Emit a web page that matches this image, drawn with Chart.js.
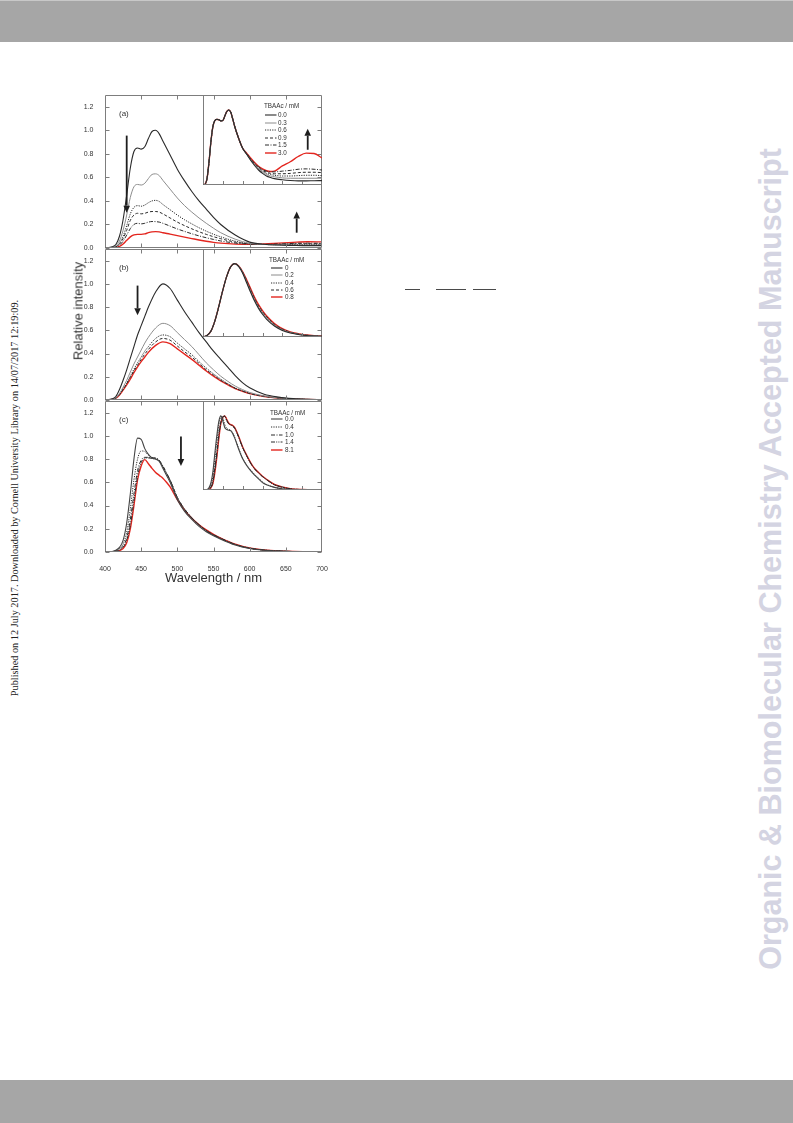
<!DOCTYPE html>
<html><head><meta charset="utf-8">
<script src="https://cdn.jsdelivr.net/npm/chart.js@4.4.0/dist/chart.umd.min.js"></script>
<style>
html,body{margin:0;padding:0;}
body{width:793px;height:1123px;position:relative;background:#fff;overflow:hidden;font-family:"Liberation Sans",Arial,sans-serif;}
.bar{position:absolute;left:0;width:793px;background:#a6a6a6;}
canvas{position:absolute;}
.rot{position:absolute;white-space:nowrap;transform:translate(-50%,-50%) rotate(-90deg);}
.leg{position:absolute;font-size:6.3px;color:#333;white-space:nowrap;line-height:8px;}
.leg svg{position:absolute;}
.seg{position:absolute;height:1.4px;background:#4a4a4a;}
</style></head>
<body>
<div class="bar" style="top:0;height:42px;border-top:1px solid #c8c8c8;box-sizing:border-box;"></div>
<div class="bar" style="top:1080px;height:43px;"></div>
<div id="wm" class="rot" style="left:770px;top:559px;font-weight:bold;font-size:30px;color:rgb(212,212,226);">Organic &amp; Biomolecular Chemistry Accepted Manuscript</div>
<div id="side" class="rot" style="left:14px;top:498px;font-family:'Liberation Serif','Times New Roman',serif;font-size:9.5px;color:#222;">Published on 12 July 2017. Downloaded by Cornell University Library on 14/07/2017 12:19:09.</div>
<div class="seg" style="left:405px;top:289px;width:15px;"></div>
<div class="seg" style="left:436px;top:289px;width:30px;"></div>
<div class="seg" style="left:473px;top:289px;width:23px;"></div>

<canvas id="pa" width="285" height="173" style="left:50px;top:85px;"></canvas>
<canvas id="pb" width="285" height="171" style="left:50px;top:239px;"></canvas>
<canvas id="pc" width="285" height="200" style="left:50px;top:391px;"></canvas>
<canvas id="ia" width="129" height="100" style="left:198px;top:90px;"></canvas>
<canvas id="ib" width="129" height="98" style="left:198px;top:244px;"></canvas>
<canvas id="ic" width="129" height="99" style="left:198px;top:396px;"></canvas>
<div class="rot" style="left:78px;top:311px;font-size:13px;color:#333;">Relative intensity</div>
<div id="legends"></div>

<script>
// ---------- tick labels ----------
const xTicks = [400, 450, 500, 550, 600, 650, 700];
const yTicks = [0.0, 0.2, 0.4, 0.6, 0.8, 1.0, 1.2];
const insetXTicks = [450, 500, 550, 600, 650];
const legendTitle = 'TBAAc / mM';

// ---------- panel (a) ----------
const concA = ['0.0', '0.3', '0.6', '0.9', '1.5', '3.0'];
const wlA = [400,410,415,420,425,430,435,440,445,450,455,460,465,470,475,480,490,500,510,520,530,540,550,560,580,600,620,640,660,680,700];
const mainA_00 = [0,0.01,0.03,0.10,0.24,0.45,0.68,0.82,0.85,0.84,0.86,0.93,0.99,1.00,0.97,0.91,0.79,0.67,0.57,0.48,0.40,0.33,0.26,0.20,0.11,0.05,0.032,0.025,0.022,0.02,0.02];
const mainA_03 = [0,0.006,0.02,0.06,0.15,0.28,0.43,0.52,0.54,0.535,0.55,0.59,0.625,0.63,0.615,0.575,0.50,0.425,0.36,0.305,0.255,0.21,0.168,0.13,0.075,0.04,0.03,0.026,0.025,0.025,0.025];
const mainA_06 = [0,0.004,0.012,0.04,0.10,0.19,0.29,0.345,0.36,0.355,0.365,0.385,0.40,0.405,0.395,0.37,0.325,0.28,0.24,0.205,0.172,0.143,0.117,0.095,0.058,0.037,0.03,0.028,0.029,0.03,0.03];
const mainA_09 = [0,0.003,0.01,0.033,0.08,0.15,0.235,0.28,0.295,0.29,0.295,0.305,0.31,0.31,0.305,0.29,0.255,0.22,0.19,0.163,0.138,0.116,0.096,0.079,0.05,0.035,0.03,0.031,0.034,0.036,0.035];
const mainA_15 = [0,0.002,0.007,0.024,0.058,0.11,0.165,0.2,0.21,0.205,0.21,0.22,0.225,0.224,0.22,0.21,0.186,0.162,0.141,0.121,0.103,0.087,0.073,0.06,0.042,0.033,0.031,0.034,0.039,0.041,0.04];
const mainA_30 = [0,0.002,0.005,0.014,0.034,0.065,0.095,0.112,0.116,0.116,0.12,0.13,0.137,0.139,0.137,0.13,0.118,0.105,0.092,0.08,0.068,0.057,0.048,0.041,0.033,0.031,0.034,0.041,0.048,0.053,0.052];

const wlIA = [400,405,410,415,420,425,430,435,440,445,450,455,460,465,470,475,480,490,500,510,520,530,540,550,560,570,580,600,620,640,660,680,700];
const insetA_00 = [0,0.01,0.08,0.30,0.58,0.78,0.86,0.875,0.87,0.855,0.86,0.92,0.98,1.0,0.97,0.88,0.78,0.62,0.49,0.41,0.33,0.26,0.20,0.155,0.12,0.10,0.085,0.07,0.06,0.055,0.055,0.057,0.058];
const insetA_03 = [0,0.01,0.08,0.30,0.58,0.78,0.86,0.875,0.87,0.855,0.86,0.92,0.98,1.0,0.97,0.88,0.78,0.62,0.49,0.41,0.335,0.27,0.215,0.17,0.14,0.12,0.11,0.095,0.09,0.09,0.09,0.09,0.09];
const insetA_06 = [0,0.01,0.08,0.30,0.58,0.78,0.86,0.875,0.87,0.855,0.86,0.92,0.98,1.0,0.97,0.88,0.78,0.62,0.49,0.415,0.34,0.275,0.225,0.185,0.155,0.14,0.13,0.12,0.12,0.125,0.13,0.13,0.125];
const insetA_09 = [0,0.01,0.08,0.30,0.58,0.78,0.86,0.875,0.87,0.855,0.86,0.92,0.98,1.0,0.97,0.88,0.78,0.62,0.49,0.415,0.345,0.28,0.235,0.195,0.17,0.155,0.15,0.15,0.155,0.165,0.17,0.17,0.165];
const insetA_15 = [0,0.01,0.08,0.30,0.58,0.78,0.86,0.875,0.87,0.855,0.86,0.92,0.98,1.0,0.97,0.88,0.78,0.62,0.49,0.42,0.35,0.29,0.245,0.205,0.185,0.175,0.175,0.185,0.195,0.21,0.215,0.21,0.20];
const insetA_30 = [0,0.01,0.08,0.30,0.58,0.78,0.86,0.875,0.87,0.855,0.86,0.92,0.98,1.0,0.97,0.88,0.78,0.62,0.49,0.425,0.36,0.30,0.25,0.215,0.19,0.18,0.185,0.255,0.31,0.38,0.425,0.42,0.36];

// ---------- panel (b) ----------
const concB = ['0', '0.2', '0.4', '0.6', '0.8'];
const wlB = [400,410,415,420,425,430,435,440,445,450,455,460,470,480,490,500,510,520,530,540,550,560,570,580,590,600,620,640,660,680,700];
const mainB_0  = [0,0.01,0.03,0.09,0.17,0.26,0.36,0.46,0.56,0.64,0.72,0.80,0.93,1.0,0.96,0.86,0.76,0.67,0.58,0.50,0.42,0.35,0.28,0.21,0.15,0.105,0.05,0.025,0.012,0.006,0.003];
const mainB_02 = [0,0.006,0.02,0.055,0.11,0.17,0.24,0.31,0.37,0.43,0.49,0.54,0.62,0.66,0.64,0.58,0.52,0.46,0.39,0.32,0.26,0.205,0.16,0.12,0.09,0.065,0.035,0.018,0.01,0.005,0.003];
const mainB_04 = [0,0.005,0.017,0.047,0.095,0.145,0.205,0.265,0.32,0.37,0.42,0.46,0.53,0.56,0.545,0.49,0.44,0.39,0.33,0.275,0.225,0.18,0.14,0.105,0.08,0.058,0.032,0.017,0.009,0.005,0.003];
const mainB_06 = [0,0.005,0.016,0.045,0.09,0.14,0.195,0.25,0.30,0.35,0.395,0.435,0.50,0.53,0.515,0.465,0.415,0.37,0.315,0.26,0.215,0.17,0.135,0.10,0.077,0.056,0.031,0.016,0.009,0.005,0.003];
const mainB_08 = [0,0.005,0.015,0.042,0.085,0.13,0.18,0.235,0.285,0.33,0.37,0.41,0.47,0.50,0.485,0.44,0.395,0.35,0.30,0.25,0.205,0.165,0.13,0.098,0.075,0.055,0.03,0.016,0.009,0.005,0.003];

const wlIB = [400,410,420,430,440,450,460,470,480,490,500,510,520,530,540,550,560,580,600,620,640,660,680,700];
const insetB_0  = [0,0.02,0.08,0.22,0.42,0.64,0.83,0.96,1.0,0.96,0.87,0.74,0.61,0.49,0.39,0.31,0.245,0.15,0.09,0.055,0.035,0.02,0.012,0.008];
const insetB_02 = [0,0.02,0.08,0.22,0.42,0.64,0.83,0.96,1.0,0.965,0.875,0.75,0.625,0.505,0.405,0.325,0.26,0.16,0.097,0.06,0.038,0.022,0.014,0.009];
const insetB_04 = [0,0.02,0.08,0.22,0.42,0.64,0.83,0.96,1.0,0.965,0.88,0.76,0.635,0.515,0.415,0.335,0.27,0.168,0.103,0.063,0.04,0.024,0.015,0.01];
const insetB_06 = [0,0.02,0.08,0.22,0.42,0.64,0.83,0.96,1.0,0.97,0.885,0.77,0.645,0.525,0.425,0.345,0.28,0.175,0.108,0.066,0.042,0.026,0.016,0.011];
const insetB_08 = [0,0.02,0.08,0.22,0.42,0.64,0.83,0.96,1.0,0.97,0.89,0.78,0.66,0.54,0.44,0.36,0.29,0.185,0.115,0.07,0.045,0.028,0.018,0.012];

// ---------- panel (c) ----------
const concC = ['0.0', '0.4', '1.0', '1.4', '8.1'];
const wlC = [400,410,415,420,425,430,435,440,445,450,455,460,465,470,475,480,485,490,500,510,520,530,540,550,560,580,600,620,640,660,680,700];
const mainC_00 = [0,0.005,0.015,0.04,0.1,0.25,0.5,0.8,0.98,0.97,0.89,0.84,0.81,0.80,0.78,0.72,0.66,0.6,0.45,0.35,0.28,0.22,0.175,0.14,0.11,0.06,0.03,0.015,0.008,0.004,0.002,0];
const mainC_04 = [0,0.003,0.01,0.03,0.07,0.17,0.37,0.62,0.8,0.87,0.865,0.835,0.815,0.805,0.785,0.73,0.67,0.61,0.46,0.36,0.29,0.23,0.18,0.145,0.115,0.063,0.032,0.016,0.008,0.004,0.002,0];
const mainC_10 = [0,0.002,0.008,0.02,0.05,0.12,0.28,0.5,0.7,0.79,0.815,0.815,0.81,0.81,0.79,0.74,0.68,0.62,0.47,0.37,0.295,0.235,0.185,0.148,0.118,0.065,0.033,0.017,0.009,0.004,0.002,0];
const mainC_14 = [0,0.002,0.006,0.016,0.04,0.1,0.23,0.44,0.65,0.77,0.805,0.81,0.805,0.80,0.785,0.74,0.68,0.62,0.47,0.37,0.295,0.235,0.185,0.148,0.118,0.065,0.033,0.017,0.009,0.004,0.002,0];
const mainC_81 = [0,0.001,0.004,0.012,0.03,0.08,0.2,0.4,0.62,0.74,0.795,0.76,0.72,0.685,0.66,0.635,0.6,0.56,0.45,0.36,0.29,0.235,0.19,0.152,0.12,0.068,0.035,0.018,0.009,0.004,0.002,0];

const wlIC = [400,410,415,420,425,430,435,440,445,450,455,460,465,470,475,480,490,500,510,520,530,540,550,560,580,600,620,650,700];
const insetC_00 = [0,0.005,0.03,0.1,0.25,0.5,0.74,0.93,1.0,0.93,0.84,0.815,0.805,0.8,0.76,0.7,0.55,0.42,0.33,0.26,0.2,0.15,0.1,0.07,0.035,0.015,0.007,0.002,0];
const insetC_04 = [0,0.004,0.02,0.07,0.19,0.42,0.67,0.88,0.99,0.97,0.88,0.83,0.815,0.805,0.77,0.71,0.56,0.43,0.34,0.27,0.21,0.16,0.11,0.075,0.037,0.016,0.007,0.002,0];
const insetC_10 = [0,0.002,0.01,0.04,0.12,0.3,0.52,0.76,0.92,0.99,0.99,0.93,0.89,0.875,0.86,0.83,0.71,0.57,0.46,0.36,0.285,0.23,0.18,0.14,0.07,0.037,0.016,0.005,0];
const insetC_14 = [0,0.002,0.008,0.035,0.1,0.27,0.48,0.73,0.9,0.985,1.0,0.94,0.895,0.88,0.865,0.835,0.715,0.575,0.465,0.365,0.288,0.232,0.182,0.142,0.072,0.038,0.017,0.005,0];
const insetC_81 = [0,0.002,0.007,0.03,0.09,0.24,0.45,0.7,0.9,0.98,1.0,0.95,0.9,0.88,0.87,0.84,0.72,0.58,0.47,0.37,0.29,0.235,0.185,0.145,0.075,0.04,0.018,0.006,0];

// ---------- styles ----------
const DARK = '#2a2a2a', GREY = '#8c8c8c', RED = '#e3261f';
const S_SOLID = {c: DARK, w: 1.1, d: []};
const S_GREY = {c: GREY, w: 1, d: []};
const S_DOT = {c: DARK, w: 1, d: [1.2, 1.2]};
const S_DASH = {c: DARK, w: 1, d: [3, 2]};
const S_DDOT = {c: DARK, w: 1, d: [4, 1.5, 1, 1.5]};
const S_DDDOT = {c: DARK, w: 1, d: [4, 1.2, 1, 1.2, 1, 1.2]};
const S_RED = {c: RED, w: 1.4, d: []};
const stylesA = [S_SOLID, S_GREY, S_DOT, S_DASH, S_DDOT, S_RED];
const stylesB = [S_SOLID, S_GREY, S_DOT, S_DASH, S_RED];
const stylesC = [{c: '#444', w: 1.1, d: []}, S_DOT, S_DDOT, S_DDDOT, S_RED];

Chart.defaults.font.family = '"Liberation Sans", Arial, sans-serif';
Chart.defaults.color = '#333';

const decor = {
  id: 'decor',
  afterDatasetsDraw(chart, args, o) {
    const {ctx, chartArea: a, scales} = chart;
    const xs = scales.x, ys = scales.y;
    const L = Math.round(a.left) + 0.5, R = Math.round(a.right) - 0.5;
    const T = Math.round(a.top) + 0.5, B = Math.round(a.bottom) - 0.5;
    ctx.save();
    ctx.strokeStyle = '#7d7d7d';
    ctx.lineWidth = 1;
    ctx.beginPath();
    if (o.kind === 'main') {
      ctx.rect(L, T, R - L, B - T);
      xTicks.slice(1, -1).forEach(v => {
        const px = Math.round(xs.getPixelForValue(v)) + 0.5;
        ctx.moveTo(px, B); ctx.lineTo(px, B - 4);
        ctx.moveTo(px, T); ctx.lineTo(px, T + 4);
      });
      yTicks.forEach(v => {
        const py = Math.round(ys.getPixelForValue(v)) + 0.5;
        ctx.moveTo(L, py); ctx.lineTo(L + 4, py);
        ctx.moveTo(R, py); ctx.lineTo(R - 4, py);
      });
    } else {
      ctx.moveTo(L, T); ctx.lineTo(L, B); ctx.lineTo(R, B);
      insetXTicks.forEach(v => {
        const px = Math.round(xs.getPixelForValue(v)) + 0.5;
        ctx.moveTo(px, B); ctx.lineTo(px, B - 3.5);
      });
    }
    ctx.stroke();
    // arrows in data coordinates
    (o.arrows || []).forEach(ar => {
      const px = xs.getPixelForValue(ar.x);
      const y1 = ys.getPixelForValue(ar.from), y2 = ys.getPixelForValue(ar.to);
      const dir = y2 > y1 ? 1 : -1;
      const head = 7, hw = 3.3;
      ctx.strokeStyle = '#1e1e1e'; ctx.fillStyle = '#1e1e1e';
      ctx.lineWidth = 1.8;
      ctx.beginPath(); ctx.moveTo(px, y1); ctx.lineTo(px, y2 - dir * head); ctx.stroke();
      ctx.beginPath(); ctx.moveTo(px - hw, y2 - dir * head); ctx.lineTo(px + hw, y2 - dir * head); ctx.lineTo(px, y2); ctx.closePath(); ctx.fill();
    });
    if (o.label) {
      ctx.fillStyle = '#333';
      ctx.font = '8px "Liberation Sans", Arial, sans-serif';
      ctx.textBaseline = 'middle';
      ctx.textAlign = 'left';
      ctx.fillText(o.label, a.left + 14, a.top + 19);
    }
    ctx.restore();
  }
};

function datasetsFrom(wl, series, labels, styles) {
  return series.map((s, i) => ({
    label: labels[i],
    data: wl.map((x, j) => ({x: x, y: s[j]})),
    borderColor: styles[i].c,
    borderWidth: styles[i].w,
    borderDash: styles[i].d,
    pointRadius: 0,
    fill: false,
    cubicInterpolationMode: 'monotone'
  }));
}

function mainChart(id, wl, series, labels, styles, label, arrows, showX) {
  return new Chart(document.getElementById(id), {
    type: 'line',
    data: {datasets: datasetsFrom(wl, series, labels, styles)},
    options: {
      responsive: false, animation: false, devicePixelRatio: 1,
      layout: {padding: {left: 0, right: 13, top: 10, bottom: showX ? 0 : 10}},
      plugins: {legend: {display: false}, tooltip: {enabled: false},
        decor: {kind: 'main', label: label, arrows: arrows}},
      scales: {
        x: {type: 'linear', min: 400, max: 700, display: showX,
          afterBuildTicks: s => { s.ticks = xTicks.map(v => ({value: v})); },
          afterFit: s => { s.height = showX ? 39 : 0; },
          grid: {display: false}, border: {display: false},
          ticks: {font: {size: 7}, color: '#333', padding: 5, maxRotation: 0, autoSkip: false},
          title: {display: true, text: 'Wavelength / nm', font: {size: 13}, color: '#333', padding: {top: 0, bottom: 5}}},
        y: {type: 'linear', min: 0, max: 1.3,
          afterBuildTicks: s => { s.ticks = yTicks.map(v => ({value: v})); },
          afterFit: s => { s.width = 55; },
          grid: {display: false}, border: {display: false},
          ticks: {font: {size: 7}, color: '#333', padding: 3.5, autoSkip: false, callback: v => Number(v).toFixed(1)}}
      }
    },
    plugins: [decor]
  });
}

function insetChart(id, wl, series, labels, styles, arrows) {
  return new Chart(document.getElementById(id), {
    type: 'line',
    data: {datasets: datasetsFrom(wl, series, labels, styles)},
    options: {
      responsive: false, animation: false, devicePixelRatio: 1,
      layout: {padding: {left: 5, right: 5, top: 5, bottom: 5}},
      plugins: {legend: {display: false}, tooltip: {enabled: false},
        decor: {kind: 'inset', arrows: arrows}},
      scales: {
        x: {type: 'linear', min: 400, max: 700, display: false},
        y: {type: 'linear', min: 0, max: 1.2, display: false}
      }
    },
    plugins: [decor]
  });
}

mainChart('pa', wlA, [mainA_00, mainA_03, mainA_06, mainA_09, mainA_15, mainA_30], concA, stylesA, '(a)',
  [{x: 430, from: 0.955, to: 0.30}, {x: 665, from: 0.13, to: 0.31}], false);
mainChart('pb', wlB, [mainB_0, mainB_02, mainB_04, mainB_06, mainB_08], concB, stylesB, '(b)',
  [{x: 445, from: 0.985, to: 0.73}], false);
mainChart('pc', wlC, [mainC_00, mainC_04, mainC_10, mainC_14, mainC_81], concC, stylesC, '(c)',
  [{x: 505, from: 0.995, to: 0.74}], true);

insetChart('ia', wlIA, [insetA_00, insetA_03, insetA_06, insetA_09, insetA_15, insetA_30], concA, stylesA,
  [{x: 664, from: 0.47, to: 0.75}]);
insetChart('ib', wlIB, [insetB_0, insetB_02, insetB_04, insetB_06, insetB_08], concB, stylesB, []);
insetChart('ic', wlIC, [insetC_00, insetC_04, insetC_10, insetC_14, insetC_81], concC, stylesC, []);

// ---------- legends (HTML text) ----------
function legend(labels, styles, titleX, titleY, lineX, textX, rowY0, step) {
  const host = document.getElementById('legends');
  const t = document.createElement('div');
  t.className = 'leg';
  t.style.left = titleX + 'px'; t.style.top = (titleY - 4) + 'px';
  t.textContent = legendTitle;
  host.appendChild(t);
  labels.forEach((lab, i) => {
    const y = rowY0 + i * step;
    const st = styles[i];
    const ns = 'http://www.w3.org/2000/svg';
    const svg = document.createElementNS(ns, 'svg');
    svg.setAttribute('width', '12'); svg.setAttribute('height', '4');
    svg.style.position = 'absolute';
    svg.style.left = lineX + 'px'; svg.style.top = (y - 2) + 'px';
    const ln = document.createElementNS(ns, 'line');
    ln.setAttribute('x1', '0'); ln.setAttribute('x2', '11.5');
    ln.setAttribute('y1', '2'); ln.setAttribute('y2', '2');
    ln.setAttribute('stroke', st.c); ln.setAttribute('stroke-width', st.w);
    if (st.d.length) ln.setAttribute('stroke-dasharray', st.d.join(' '));
    svg.appendChild(ln);
    host.appendChild(svg);
    const d = document.createElement('div');
    d.className = 'leg';
    d.style.left = textX + 'px'; d.style.top = (y - 4) + 'px';
    d.textContent = lab;
    host.appendChild(d);
  });
}
legend(concA, stylesA, 264, 106, 265, 278, 115, 7.5);
legend(concB, stylesB, 269, 260, 271, 285, 267.7, 7.4);
legend(concC, stylesC, 270, 412.7, 271, 285, 419.3, 7.7);

// fit rotated page texts to their measured lengths
function fitText(id, target) {
  const el = document.getElementById(id);
  const fs = parseFloat(getComputedStyle(el).fontSize);
  const w = el.getBoundingClientRect().height;
  if (w > 0) el.style.fontSize = (fs * target / w) + 'px';
}
fitText('wm', 822);
fitText('side', 397);
</script>
</body></html>
